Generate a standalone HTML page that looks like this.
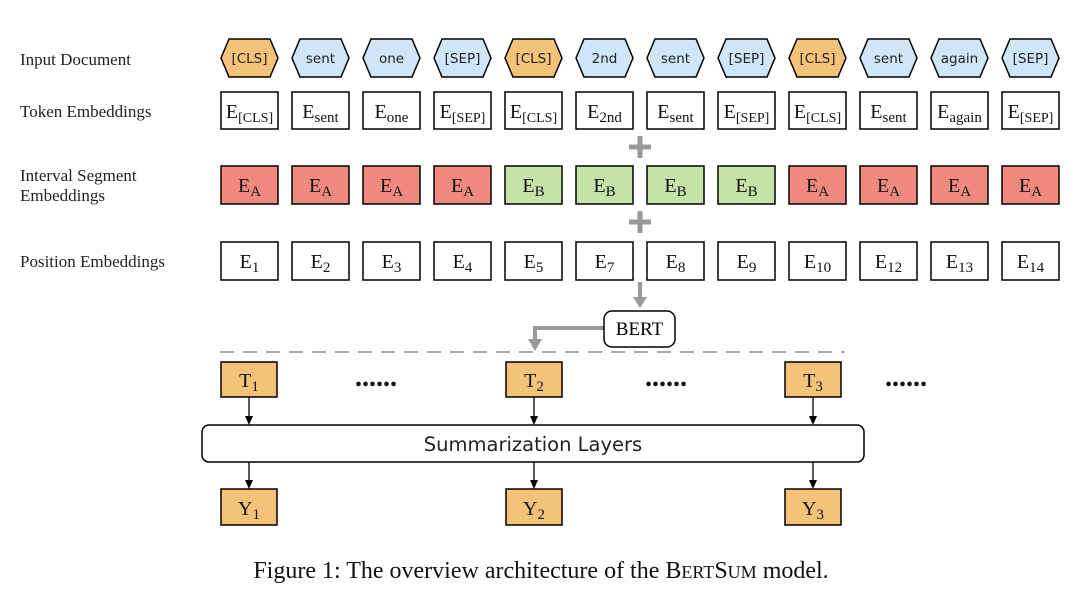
<!DOCTYPE html>
<html><head><meta charset="utf-8"><style>
body{margin:0;background:#fff;width:1080px;height:607px;overflow:hidden}
</style></head><body>
<svg width="1080" height="607" xmlns="http://www.w3.org/2000/svg">
<g font-family="Liberation Serif, serif" font-size="17" fill="#222">
<text x="20" y="65">Input Document</text>
<text x="20" y="117">Token Embeddings</text>
<text x="20" y="181">Interval Segment</text>
<text x="20" y="201">Embeddings</text>
<text x="20" y="267">Position Embeddings</text>
</g>
<g font-family="Liberation Serif, serif" font-size="19" text-anchor="middle">
<g stroke="#000" stroke-width="1.5">
<path d="M221,58 l8,-19 h41 l8,19 l-8,19 h-41 z" fill="#f5c27a"/>
<path d="M292,58 l8,-19 h41 l8,19 l-8,19 h-41 z" fill="#cfe6f7"/>
<path d="M363,58 l8,-19 h41 l8,19 l-8,19 h-41 z" fill="#cfe6f7"/>
<path d="M434,58 l8,-19 h41 l8,19 l-8,19 h-41 z" fill="#cfe6f7"/>
<path d="M505,58 l8,-19 h41 l8,19 l-8,19 h-41 z" fill="#f5c27a"/>
<path d="M576,58 l8,-19 h41 l8,19 l-8,19 h-41 z" fill="#cfe6f7"/>
<path d="M647,58 l8,-19 h41 l8,19 l-8,19 h-41 z" fill="#cfe6f7"/>
<path d="M718,58 l8,-19 h41 l8,19 l-8,19 h-41 z" fill="#cfe6f7"/>
<path d="M789,58 l8,-19 h41 l8,19 l-8,19 h-41 z" fill="#f5c27a"/>
<path d="M860,58 l8,-19 h41 l8,19 l-8,19 h-41 z" fill="#cfe6f7"/>
<path d="M931,58 l8,-19 h41 l8,19 l-8,19 h-41 z" fill="#cfe6f7"/>
<path d="M1002,58 l8,-19 h41 l8,19 l-8,19 h-41 z" fill="#cfe6f7"/>
</g>
<g font-family="DejaVu Sans, sans-serif" font-size="13.5" fill="#222">
<text x="249.5" y="63">[CLS]</text><text x="320.5" y="63">sent</text><text x="391.5" y="63">one</text><text x="462.5" y="63">[SEP]</text>
<text x="533.5" y="63">[CLS]</text><text x="604.5" y="63">2nd</text><text x="675.5" y="63">sent</text><text x="746.5" y="63">[SEP]</text>
<text x="817.5" y="63">[CLS]</text><text x="888.5" y="63">sent</text><text x="959.5" y="63">again</text><text x="1030.5" y="63">[SEP]</text>
</g>
<g stroke="#000" stroke-width="1.5" fill="#fff">
<rect x="221" y="92" width="57" height="37"/><rect x="292" y="92" width="57" height="37"/><rect x="363" y="92" width="57" height="37"/><rect x="434" y="92" width="57" height="37"/><rect x="505" y="92" width="57" height="37"/><rect x="576" y="92" width="57" height="37"/><rect x="647" y="92" width="57" height="37"/><rect x="718" y="92" width="57" height="37"/><rect x="789" y="92" width="57" height="37"/><rect x="860" y="92" width="57" height="37"/><rect x="931" y="92" width="57" height="37"/><rect x="1002" y="92" width="57" height="37"/>
</g>
<g fill="#f08a7e" stroke="#000" stroke-width="1.5">
<rect x="221" y="166" width="57" height="38"/><rect x="292" y="166" width="57" height="38"/><rect x="363" y="166" width="57" height="38"/><rect x="434" y="166" width="57" height="38"/>
<rect x="505" y="166" width="57" height="38" fill="#c6e3a8"/><rect x="576" y="166" width="57" height="38" fill="#c6e3a8"/><rect x="647" y="166" width="57" height="38" fill="#c6e3a8"/><rect x="718" y="166" width="57" height="38" fill="#c6e3a8"/>
<rect x="789" y="166" width="57" height="38"/><rect x="860" y="166" width="57" height="38"/><rect x="931" y="166" width="57" height="38"/><rect x="1002" y="166" width="57" height="38"/>
</g>
<g stroke="#000" stroke-width="1.5" fill="#fff">
<rect x="221" y="242" width="57" height="38"/><rect x="292" y="242" width="57" height="38"/><rect x="363" y="242" width="57" height="38"/><rect x="434" y="242" width="57" height="38"/><rect x="505" y="242" width="57" height="38"/><rect x="576" y="242" width="57" height="38"/><rect x="647" y="242" width="57" height="38"/><rect x="718" y="242" width="57" height="38"/><rect x="789" y="242" width="57" height="38"/><rect x="860" y="242" width="57" height="38"/><rect x="931" y="242" width="57" height="38"/><rect x="1002" y="242" width="57" height="38"/>
</g>
<g fill="#111" font-size="20">
<text x="249.5" y="118">E<tspan font-size="14" dy="4">[CLS]</tspan></text>
<text x="320.5" y="118">E<tspan font-size="15" dy="4">sent</tspan></text>
<text x="391.5" y="118">E<tspan font-size="15" dy="4">one</tspan></text>
<text x="462.5" y="118">E<tspan font-size="14" dy="4">[SEP]</tspan></text>
<text x="533.5" y="118">E<tspan font-size="14" dy="4">[CLS]</tspan></text>
<text x="604.5" y="118">E<tspan font-size="15" dy="4">2nd</tspan></text>
<text x="675.5" y="118">E<tspan font-size="15" dy="4">sent</tspan></text>
<text x="746.5" y="118">E<tspan font-size="14" dy="4">[SEP]</tspan></text>
<text x="817.5" y="118">E<tspan font-size="14" dy="4">[CLS]</tspan></text>
<text x="888.5" y="118">E<tspan font-size="15" dy="4">sent</tspan></text>
<text x="959.5" y="118">E<tspan font-size="15" dy="4">again</tspan></text>
<text x="1030.5" y="118">E<tspan font-size="14" dy="4">[SEP]</tspan></text>
</g>
<g fill="#111" font-size="20">
<text x="249.5" y="192">E<tspan font-size="15" dy="4">A</tspan></text><text x="320.5" y="192">E<tspan font-size="15" dy="4">A</tspan></text><text x="391.5" y="192">E<tspan font-size="15" dy="4">A</tspan></text><text x="462.5" y="192">E<tspan font-size="15" dy="4">A</tspan></text>
<text x="533.5" y="192">E<tspan font-size="15" dy="4">B</tspan></text><text x="604.5" y="192">E<tspan font-size="15" dy="4">B</tspan></text><text x="675.5" y="192">E<tspan font-size="15" dy="4">B</tspan></text><text x="746.5" y="192">E<tspan font-size="15" dy="4">B</tspan></text>
<text x="817.5" y="192">E<tspan font-size="15" dy="4">A</tspan></text><text x="888.5" y="192">E<tspan font-size="15" dy="4">A</tspan></text><text x="959.5" y="192">E<tspan font-size="15" dy="4">A</tspan></text><text x="1030.5" y="192">E<tspan font-size="15" dy="4">A</tspan></text>
</g>
<g fill="#111" font-size="20">
<text x="249.5" y="268">E<tspan font-size="15" dy="4">1</tspan></text><text x="320.5" y="268">E<tspan font-size="15" dy="4">2</tspan></text><text x="391.5" y="268">E<tspan font-size="15" dy="4">3</tspan></text><text x="462.5" y="268">E<tspan font-size="15" dy="4">4</tspan></text>
<text x="533.5" y="268">E<tspan font-size="15" dy="4">5</tspan></text><text x="604.5" y="268">E<tspan font-size="15" dy="4">7</tspan></text><text x="675.5" y="268">E<tspan font-size="15" dy="4">8</tspan></text><text x="746.5" y="268">E<tspan font-size="15" dy="4">9</tspan></text>
<text x="817.5" y="268">E<tspan font-size="15" dy="4">10</tspan></text><text x="888.5" y="268">E<tspan font-size="15" dy="4">12</tspan></text><text x="959.5" y="268">E<tspan font-size="15" dy="4">13</tspan></text><text x="1030.5" y="268">E<tspan font-size="15" dy="4">14</tspan></text>
</g>
</g>
<g stroke="#999" stroke-width="5">
<path d="M629,147 h22 M640,136 v22"/>
<path d="M629,222 h22 M640,211 v22"/>
</g>
<g stroke="#999" stroke-width="4" fill="none">
<path d="M640,282 v18"/>
<path d="M604,328 h-69 v12"/>
</g>
<path d="M633,297 h14 l-7,11 z" fill="#999"/>
<path d="M528,339 h14 l-7,12 z" fill="#999"/>
<rect x="604" y="311" width="71" height="36" rx="8" fill="#fff" stroke="#000" stroke-width="1.5"/>
<text x="639.5" y="335" font-family="Liberation Serif, serif" font-size="19" text-anchor="middle">BERT</text>
<line x1="220" y1="352" x2="845" y2="352" stroke="#aaa" stroke-width="2" stroke-dasharray="14,9"/>
<g fill="#f5c27a" stroke="#000" stroke-width="1.5">
<rect x="221" y="362" width="56" height="35"/><rect x="506" y="362" width="56" height="35"/><rect x="785" y="362" width="56" height="35"/>
<rect x="221" y="489" width="56" height="36"/><rect x="506" y="489" width="56" height="36"/><rect x="785" y="489" width="56" height="36"/>
</g>
<g font-family="Liberation Serif, serif" font-size="20" text-anchor="middle" fill="#111">
<text x="249" y="387">T<tspan font-size="15" dy="4">1</tspan></text><text x="534" y="387">T<tspan font-size="15" dy="4">2</tspan></text><text x="813" y="387">T<tspan font-size="15" dy="4">3</tspan></text>
<text x="249" y="515">Y<tspan font-size="15" dy="4">1</tspan></text><text x="534" y="515">Y<tspan font-size="15" dy="4">2</tspan></text><text x="813" y="515">Y<tspan font-size="15" dy="4">3</tspan></text>
</g>
<g fill="#111" font-family="Liberation Serif, serif" font-size="28" font-weight="bold">
<text x="355" y="386">......</text><text x="645" y="386">......</text><text x="885" y="386">......</text>
</g>
<g stroke="#000" stroke-width="1.3">
<line x1="249" y1="397" x2="249" y2="418"/><line x1="534" y1="397" x2="534" y2="418"/><line x1="813" y1="397" x2="813" y2="418"/>
<line x1="249" y1="462" x2="249" y2="482"/><line x1="534" y1="462" x2="534" y2="482"/><line x1="813" y1="462" x2="813" y2="482"/>
</g>
<g fill="#000">
<path d="M245,416 h8 l-4,9 z"/><path d="M530,416 h8 l-4,9 z"/><path d="M809,416 h8 l-4,9 z"/>
<path d="M245,480 h8 l-4,9 z"/><path d="M530,480 h8 l-4,9 z"/><path d="M809,480 h8 l-4,9 z"/>
</g>
<rect x="202" y="425" width="662" height="37" rx="7" fill="#fff" stroke="#000" stroke-width="1.5"/>
<text x="533" y="451" font-family="DejaVu Sans, sans-serif" font-size="19.5" text-anchor="middle" fill="#222">Summarization Layers</text>
<text x="541" y="578" font-family="Liberation Serif, serif" font-size="24" text-anchor="middle" fill="#111">Figure 1: The overview architecture of the B<tspan font-size="18">ERT</tspan>S<tspan font-size="18">UM</tspan> model.</text>
</svg>
</body></html>
